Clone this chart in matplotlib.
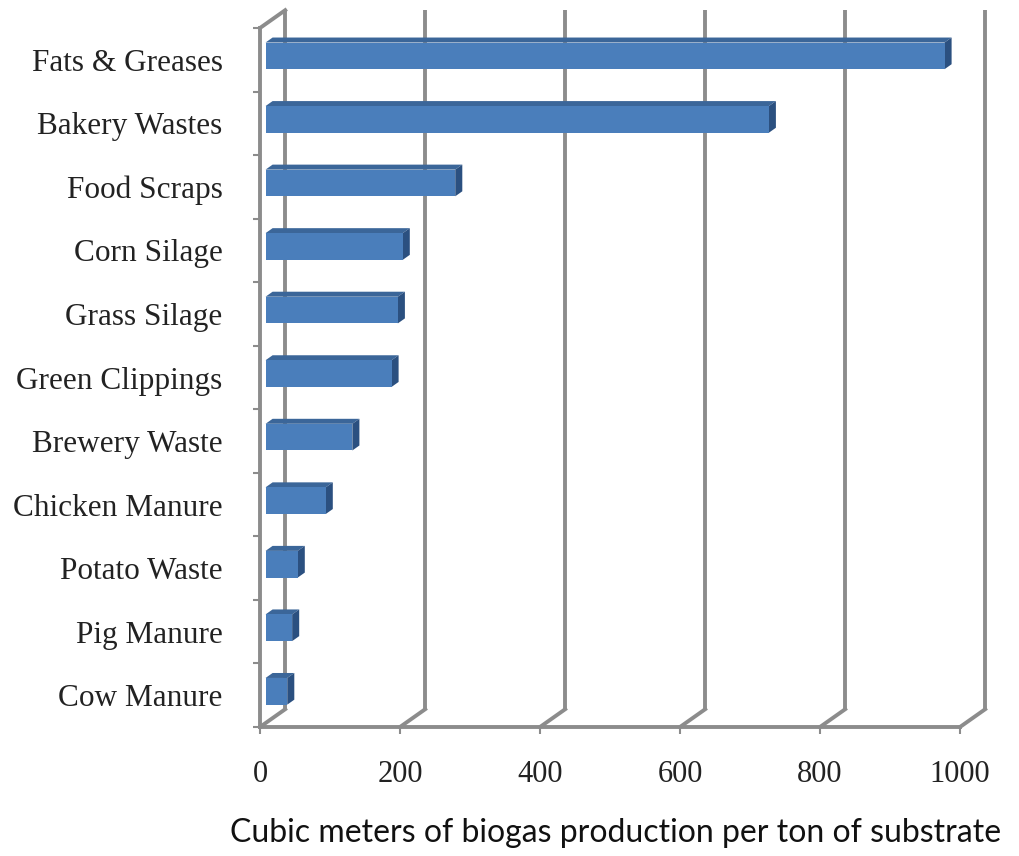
import numpy as np
import matplotlib.pyplot as plt
from matplotlib.patches import Polygon

# categories from bottom to top (as drawn)
categories = ["Cow Manure", "Pig Manure", "Potato Waste", "Chicken Manure",
              "Brewery Waste", "Green Clippings", "Grass Silage", "Corn Silage",
              "Food Scraps", "Bakery Wastes", "Fats & Greases"]
values = [31, 38, 46, 86, 124, 180, 189, 196, 271, 719, 970]
xticks = [0, 200, 400, 600, 800, 1000]
xlabel = "Cubic meters of biogas production per ton of substrate"

GRAY = "#8c8c8c"
FRONT = "#4a7ebb"
TOP = "#3b6699"
SIDE = "#2b5080"

# fake 3d depth, in data units
DX = 36.0
DY = 0.28
f1, f2 = 0.22, 0.5   # bar front / back depth fraction
h = 0.42

fig = plt.figure(figsize=(10.19, 8.56), dpi=100)
ax = fig.add_axes([260/1019, 129/856, 700/1019, 699/856])
ax.set_xlim(0, 1000)
ax.set_ylim(-0.5, 10.5)

ymin, ymax = -0.5, 10.5
lw = 2.8
# back wall gridlines + floor diagonals
for v in xticks:
    ax.plot([v + DX, v + DX], [ymin + DY, ymax + DY], color=GRAY, lw=lw,
            clip_on=False, zorder=1, solid_capstyle='butt')
    ax.plot([v, v + DX], [ymin, ymin + DY], color=GRAY, lw=lw,
            clip_on=False, zorder=1)
# left wall top edge
ax.plot([0, DX], [ymax, ymax + DY], color=GRAY, lw=lw, clip_on=False, zorder=1)

# bars: front face, top face, side face
for i, v in enumerate(values):
    x0 = f1 * DX
    yc = i + f1 * DY
    yb, yt = yc - h / 2, yc + h / 2
    ddx = (f2 - f1) * DX
    ddy = (f2 - f1) * DY
    ax.add_patch(Polygon([[x0, yt], [x0 + v, yt], [x0 + v + ddx, yt + ddy],
                          [x0 + ddx, yt + ddy]], closed=True, fc=TOP, ec='none',
                         zorder=3, clip_on=False))
    ax.add_patch(Polygon([[x0 + v, yb], [x0 + v + ddx, yb + ddy],
                          [x0 + v + ddx, yt + ddy], [x0 + v, yt]], closed=True,
                         fc=SIDE, ec='none', zorder=3, clip_on=False))
    ax.barh(yc, v, height=h, left=x0, color=FRONT, zorder=4)

for s in ['top', 'right']:
    ax.spines[s].set_visible(False)
for s in ['left', 'bottom']:
    ax.spines[s].set_color(GRAY)
    ax.spines[s].set_linewidth(lw)
    ax.spines[s].set_zorder(2)

serif = "Liberation Serif"
ax.set_yticks(range(len(categories)))
ax.set_yticklabels(categories, fontfamily=serif, fontsize=22.5, color="#222222")
ax.tick_params(axis='y', which='major', length=0, pad=27)
ax.set_yticks(np.arange(-0.5, 11, 1), minor=True)
ax.tick_params(axis='y', which='minor', length=5, width=1.5, color=GRAY, direction='out')

ax.set_xticks(xticks)
ax.set_xticklabels([str(t) for t in xticks], fontfamily=serif, fontsize=22, color="#222222")
ax.tick_params(axis='x', length=5, width=1.5, color=GRAY, direction='out', pad=19)

fig.text(616/1019, 1 - 833/856, xlabel, fontfamily="Lato", fontsize=23,
         ha='center', va='center', color="#111111")

fig.savefig("out.png", dpi=100)
